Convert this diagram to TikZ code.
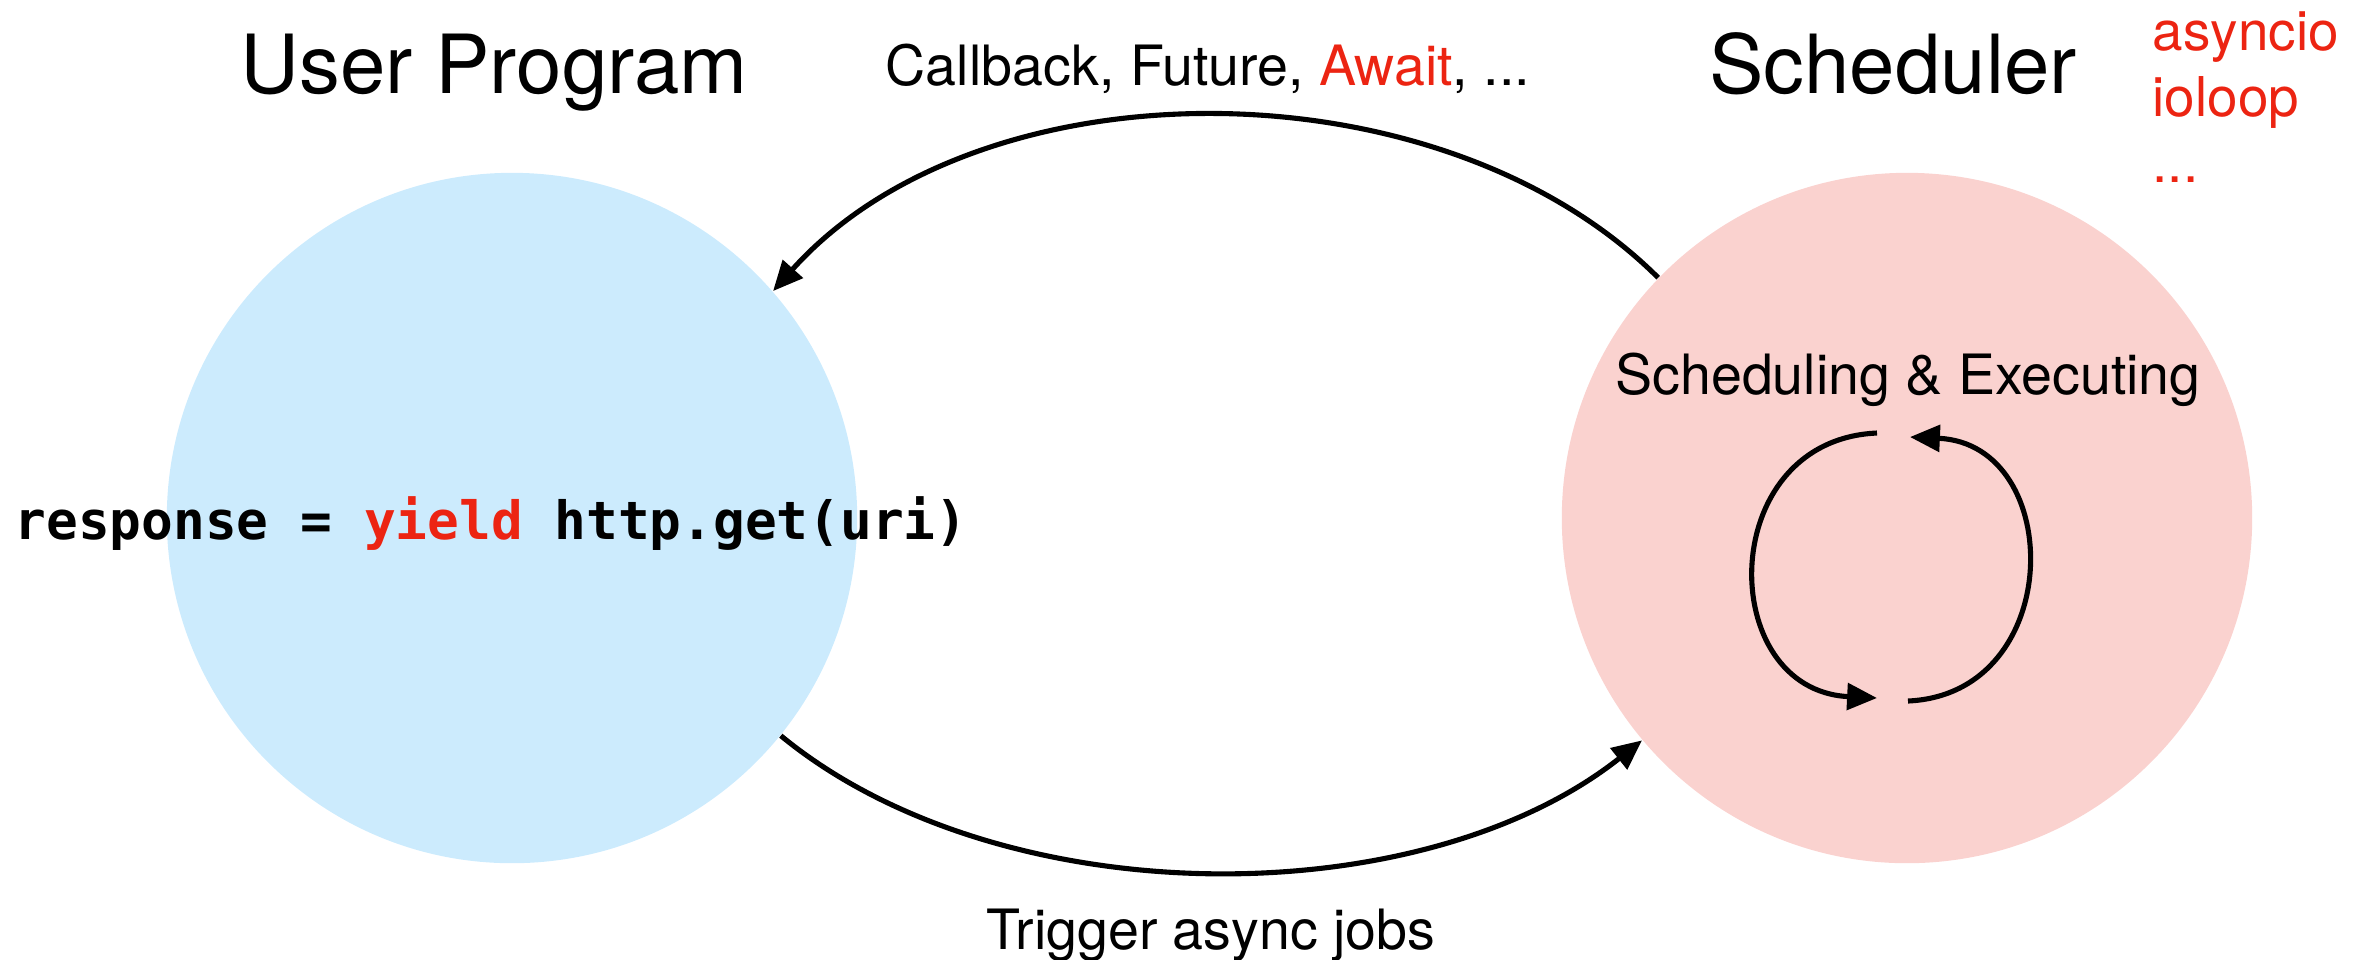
\documentclass[tikz,border=0pt]{standalone}
\usepackage{fontspec}
\setmainfont{TeX Gyre Heros}
\newfontfamily\codefont{DejaVu Sans Mono}
\usetikzlibrary{arrows.meta}
\definecolor{progblue}{RGB}{204,235,253}
\definecolor{schedpink}{RGB}{250,210,207}
\definecolor{hlred}{RGB}{236,36,18}

\begin{document}
\begin{tikzpicture}[x=0.01cm, y=-0.01cm,
  blob/.style={circle, inner sep=0pt, minimum size=6.9cm},
  flow/.style={line width=1.45pt, -{Triangle[length=8.5pt,width=7.5pt]}},
  heading/.style={font=\fontsize{23.2}{27}\selectfont, inner sep=0pt, anchor=base},
  caption/.style={font=\fontsize{15.8}{18}\selectfont, inner sep=0pt, anchor=base},
  impl/.style={font=\fontsize{15.6}{18}\selectfont, text=hlred, inner sep=0pt, anchor=base west}]

\useasboundingbox (0,0) rectangle (2371,959);

% the two parties
\node[blob, fill=progblue] (prog) at (512,518) {};
\node[blob, fill=schedpink] (sched) at (1907,518) {};

% titles
\node[heading] (progtitle) at (494,93) {User Program};
\node[heading] (schedtitle) at (1893,93) {Scheduler};

% scheduler implementations
\node[impl] (impl1) at (2152,50) {asyncio};
\node[impl] (impl2) at (2152,116) {ioloop};
\node[impl] (impl3) at (2152,182) {...};

% code line in the user program
\node[font=\codefont\bfseries\fontsize{15}{18}\selectfont, inner sep=0pt, anchor=base west]
  (code) at (14,539) {response = {\color{hlred}yield} http.get(uri)};

% scheduler inner label
\node[caption] (schedlabel) at (1908,394) {Scheduling \& Executing};

% flow between program and scheduler
\draw[flow] (sched.136.5) .. controls (1440,60) and (980,60) .. (prog.41.9);
\node[caption] (backlabel) at (1208,85) {Callback, Future, {\color{hlred}Await}, ...};

\draw[flow] (prog.-39) .. controls (1000,916) and (1420,916) .. (sched.-140.5);
\node[caption] (triggerlabel) at (1211,949) {Trigger async jobs};

% event loop inside the scheduler
\coordinate (looptl) at (1877,433);
\coordinate (loopbl) at (1877,698);
\coordinate (loopbr) at (1908,701);
\coordinate (looptr) at (1910,437);
\draw[flow] (looptl) .. controls (1715,440) and (1715,690) .. (loopbl);
\draw[flow] (loopbr) .. controls (2066,694) and (2066,444) .. (looptr);
\end{tikzpicture}
\end{document}
